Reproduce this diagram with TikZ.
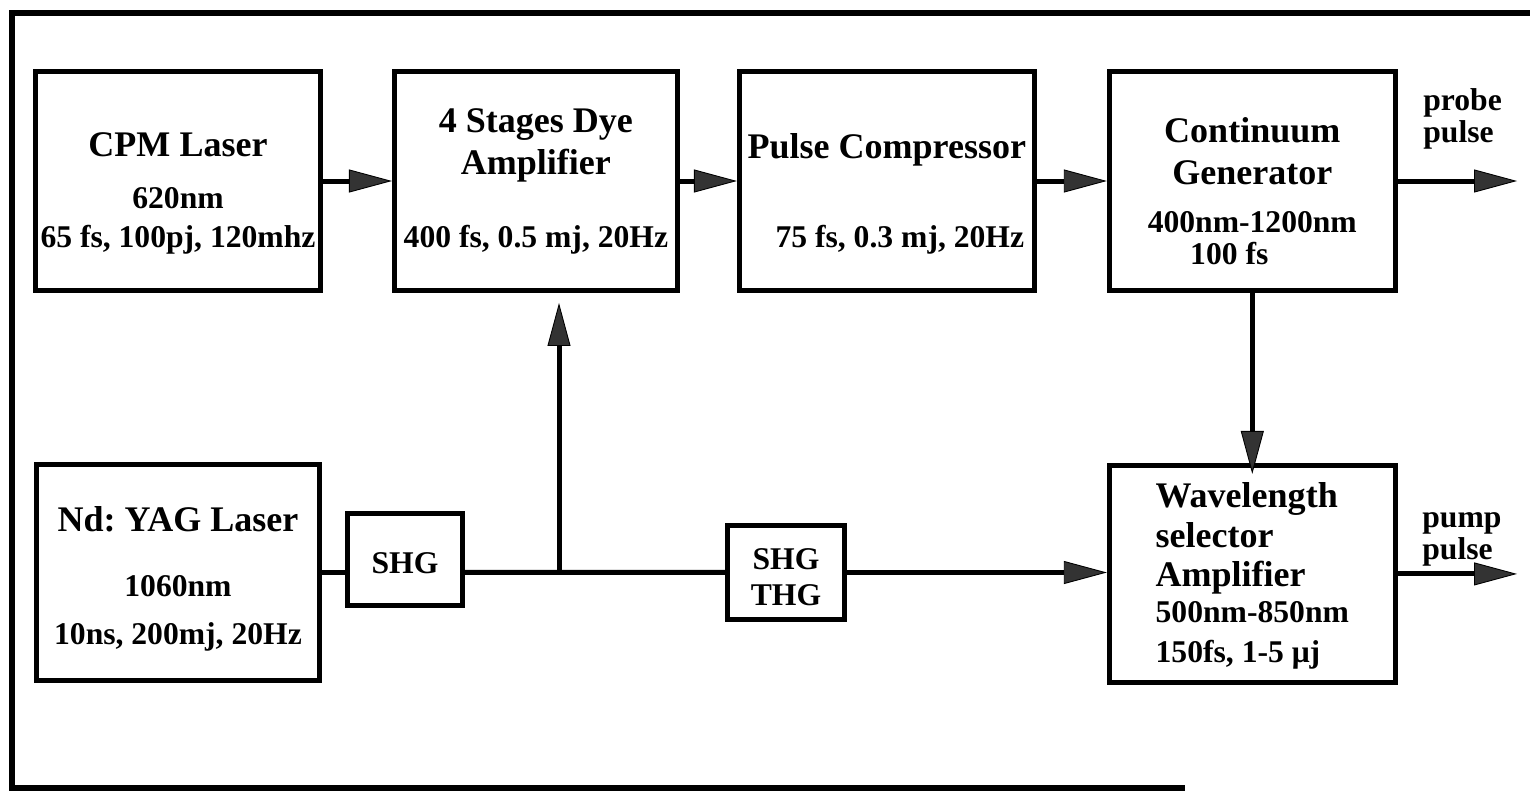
\documentclass[tikz,border=0pt]{standalone}
\usepackage{fontspec}
\setmainfont{Liberation Serif}
\usetikzlibrary{arrows.meta, positioning}

\newcommand{\boxtitle}{\fontsize{20.5pt}{24pt}\selectfont}

\begin{document}
\begin{tikzpicture}[
    x=0.02cm, y=-0.02cm,
    node distance=1.38cm,
    unit/.style={
        rectangle, draw, line width=0.1cm, inner xsep=0pt, inner ysep=2pt,
        minimum width=5.7cm, minimum height=4.38cm, align=center, text depth=0pt,
        font=\fontsize{18pt}{24pt}\selectfont\bfseries
    },
    harm/.style={unit, minimum width=2.3cm, minimum height=1.84cm},
    beam/.style={line width=0.1cm},
    ray/.style={beam, -{Triangle[length=0.86cm, width=0.46cm, fill=black!80, line width=0.5pt]}},
    pulselbl/.style={
        align=left, inner sep=0pt, text depth=0pt, anchor=south west,
        font=\fontsize{18pt}{24pt}\selectfont\bfseries
    }
]
\useasboundingbox (0,0) rectangle (1530,791);
\draw[beam, line width=0.12cm] (1540,13) -- (12,13) -- (12,788) -- (1185,788);

\node[unit, text height=2.68cm] (cpm) at (178,181)
    {{\boxtitle CPM Laser}\\[0.2cm] 620nm\\[-0.06cm] 65 fs, 100pj, 120mhz};
\node[unit, right=of cpm, minimum width=5.66cm, text height=2.68cm] (amp)
    {{\boxtitle 4 Stages Dye}\\ {\boxtitle Amplifier}\\[0.62cm] 400 fs, 0.5 mj, 20Hz};
\node[unit, right=1.14cm of amp, minimum width=5.9cm, text height=2.68cm] (comp)
    {{\boxtitle Pulse Compressor}\\[0.94cm] \hspace*{0.52cm}75 fs, 0.3 mj, 20Hz};
\node[unit, right=1.4cm of comp, minimum width=5.72cm, text height=3.36cm] (cont)
    {{\boxtitle Continuum}\\ {\boxtitle Generator}\\[0.12cm]
     400nm-1200nm\hspace*{0.48cm}\\[-0.2cm] 100 fs\hspace*{0.92cm}};

\node[unit, below=3.38cm of cpm, minimum width=5.68cm, minimum height=4.32cm, text height=2.9cm] (yag)
    {{\boxtitle Nd:\ YAG Laser}\\[0.46cm] 1060nm\hspace*{0.68cm}\\[0.12cm] 10ns, 200mj, 20Hz};
\node[harm, text height=0.54cm] (shg) at (405,559.5) {SHG};
\node[harm, minimum width=2.34cm, minimum height=1.88cm, text height=1.3cm] (shgthg) at (786,572.5)
    {SHG\\[-0.14cm] THG};
\node[unit, below=3.4cm of cont, minimum width=5.72cm, minimum height=4.34cm, align=left, text height=3.56cm] (wave)
    {{\boxtitle Wavelength}\\[-0.04cm] {\boxtitle selector}\\[-0.06cm] {\boxtitle Amplifier}\\[-0.12cm]
     500nm-850nm\\[-0.04cm] 150fs, 1-5 μj};

\node[pulselbl] (probe) at (1423,143) {probe\\[-0.2cm] pulse};
\node[pulselbl] (pump) at (1422,560) {pump\\[-0.2cm] pulse};

\coordinate (junc) at (559,0 |- yag.east);
\coordinate (probe-end) at (1517,0 |- cont.east);
\coordinate (pump-end) at (1517,0 |- wave.east);

% femtosecond chain
\draw[ray] (cpm) -- (amp);
\draw[ray] (amp) -- (comp);
\draw[ray] (comp) -- (cont);
\draw[ray] (cont) -- (probe-end);
\draw[ray, shorten >=-0.22cm] (cont) -- (wave);

% pump chain
\draw[beam] (yag) -- (yag.east -| shg.west);
\draw[beam] (yag.east -| shg.east) -- (junc) -- (shgthg);
\draw[ray, shorten >=0.2cm] (junc) -- (junc |- amp.south);
\draw[ray] (shgthg) -- (shgthg -| wave.west);
\draw[ray] (wave) -- (pump-end);

\end{tikzpicture}
\end{document}
